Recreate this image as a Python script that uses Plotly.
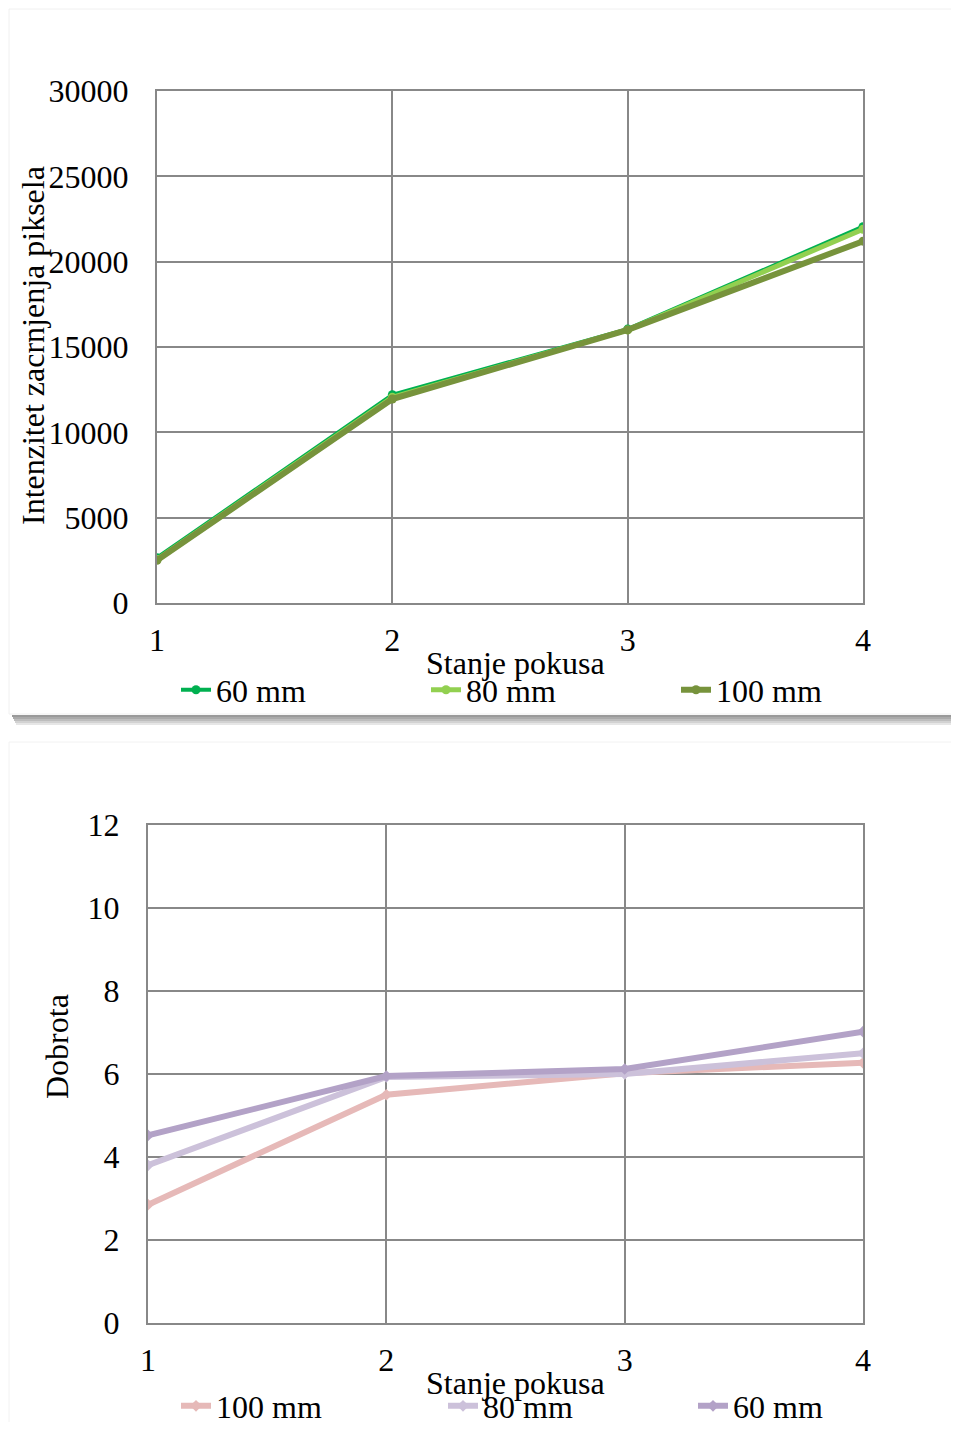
import plotly.graph_objects as go

W, H = 959, 1430
OX, OY = 8, 8          # page body margin
FW, FH = W - 2 * OX, H - 2 * OY

# ---------------- data ----------------
stanje = [1, 2, 3, 4]

top_names = ["60 mm", "80 mm", "100 mm"]
top_60 = [2650, 12200, 16050, 22050]
top_80 = [2550, 12050, 16000, 21900]
top_100 = [2500, 11950, 16000, 21200]
top_colors = ["#00B050", "#92D050", "#77933C"]
top_widths = [4, 5, 6]

bot_names = ["100 mm", "80 mm", "60 mm"]
bot_100 = [2.85, 5.5, 6.02, 6.27]
bot_80 = [3.8, 5.93, 6.0, 6.5]
bot_60 = [4.52, 5.95, 6.12, 7.02]
bot_colors = ["#E6B9B8", "#CCC1DA", "#B3A2C7"]

x_title = "Stanje pokusa"
top_y_title = "Intenzitet zacrnjenja piksela"
bot_y_title = "Dobrota"

FONT = "Liberation Serif, Times New Roman, serif"
TICK_SIZE = 32
TXT_SIZE = 32


def px_x(t):
    return (t - OX) / FW


def px_y(t):
    return 1 - (t - OY) / FH


fig = go.Figure()

# ---------------- top chart ----------------
top_series = [top_60, top_80, top_100]
top_legend_x = [157, 407, 657]
for i, (name, vals) in enumerate(zip(top_names, top_series)):
    lg = "legend" if i == 0 else f"legend{i + 1}"
    fig.add_trace(go.Scatter(
        x=stanje, y=vals, name=name, mode="lines+markers",
        line=dict(color=top_colors[i], width=top_widths[i]),
        marker=dict(symbol="circle", size=9, color=top_colors[i]),
        xaxis="x", yaxis="y", legend=lg, showlegend=True,
    ))

# ---------------- bottom chart ----------------
bot_series = [bot_100, bot_80, bot_60]
bot_legend_x = [157, 424, 674]
for i, (name, vals) in enumerate(zip(bot_names, bot_series)):
    lg = f"legend{i + 4}"
    fig.add_trace(go.Scatter(
        x=stanje, y=vals, name=name, mode="lines+markers",
        line=dict(color=bot_colors[i], width=6),
        marker=dict(symbol="diamond", size=9, color=bot_colors[i]),
        xaxis="x2", yaxis="y2", legend=lg, showlegend=True,
    ))

axis_common = dict(
    showline=True, mirror=True, linecolor="#888888", linewidth=2,
    showgrid=True, gridcolor="#888888", gridwidth=2,
    zeroline=False, ticks="", tickformat="d",
    tickfont=dict(family=FONT, size=TICK_SIZE, color="black"),
)

layout = dict(
    width=FW, height=FH, showlegend=True,
    margin=dict(l=0, r=0, t=0, b=0, pad=0, autoexpand=False),
    paper_bgcolor="white", plot_bgcolor="white",
    font=dict(family=FONT, size=TXT_SIZE, color="black"),
    xaxis=dict(domain=[px_x(157), px_x(863)], range=[1, 4], dtick=1,
               anchor="y", ticklabelstandoff=8, automargin=False, **axis_common),
    yaxis=dict(domain=[px_y(603), px_y(91)], range=[0, 30000], dtick=5000,
               anchor="x", ticklabelstandoff=20, automargin=False, **axis_common),
    xaxis2=dict(domain=[px_x(148), px_x(863)], range=[1, 4], dtick=1,
                anchor="y2", ticklabelstandoff=8, automargin=False, **axis_common),
    yaxis2=dict(domain=[px_y(1323), px_y(825)], range=[0, 12], dtick=2,
                anchor="x2", ticklabelstandoff=20, automargin=False, **axis_common),
)

legend_common = dict(bgcolor="rgba(0,0,0,0)", borderwidth=0,
                     font=dict(family=FONT, size=TXT_SIZE, color="black"),
                     xanchor="left", yanchor="middle", orientation="h",
                     tracegroupgap=0, itemclick=False, visible=True)
for i, lx in enumerate(top_legend_x):
    key = "legend" if i == 0 else f"legend{i + 1}"
    layout[key] = dict(x=px_x(lx + 19), y=px_y(690), **legend_common)
for i, lx in enumerate(bot_legend_x):
    key = f"legend{i + 4}"
    layout[key] = dict(x=px_x(lx + 19), y=px_y(1406), **legend_common)

fig.update_layout(**layout)

# axis titles as annotations
annos = [
    dict(text=x_title, x=px_x(515), y=px_y(663)),
    dict(text=top_y_title, x=px_x(33), y=px_y(346), textangle=-90),
    dict(text=x_title, x=px_x(515), y=px_y(1383)),
    dict(text=bot_y_title, x=px_x(57), y=px_y(1047), textangle=-90),
]
for a in annos:
    fig.add_annotation(xref="paper", yref="paper", showarrow=False,
                       xanchor="center", yanchor="middle",
                       font=dict(family=FONT, size=TXT_SIZE, color="black"), **a)

# card frames and shadow
fig.add_shape(type="rect", xref="paper", yref="paper",
              x0=px_x(9), x1=1.01, y0=px_y(714), y1=px_y(9),
              line=dict(color="#f0f0f0", width=1), layer="below")
fig.add_shape(type="rect", xref="paper", yref="paper",
              x0=px_x(9), x1=1.01, y0=-0.01, y1=px_y(742),
              line=dict(color="#f2f2f2", width=1), layer="below")
for k, col in enumerate(["#9a9a9a", "#aaaaaa", "#bdbdbd", "#d2d2d2", "#e6e6e6"]):
    fig.add_shape(type="rect", xref="paper", yref="paper",
                  x0=px_x(12 + k), x1=1.01, y0=px_y(715 + 2 * (k + 1)),
                  y1=px_y(715 + 2 * k),
                  line=dict(width=0), fillcolor=col, layer="below")

fig.write_html("out.html")
